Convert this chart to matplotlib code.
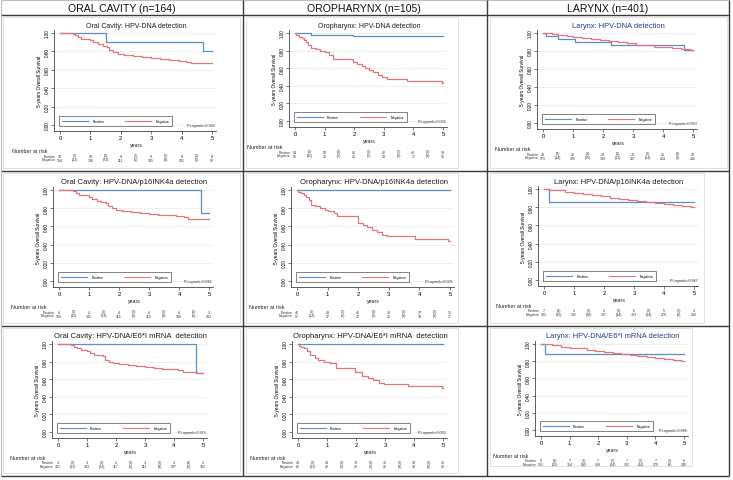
import matplotlib
matplotlib.use('Agg')
import matplotlib.pyplot as plt
from matplotlib.transforms import blended_transform_factory
from matplotlib.lines import Line2D

plt.rcParams['font.family'] = ['Liberation Sans', 'DejaVu Sans']

W, H = 733, 481

# ---------------- data ----------------
col_headers = ['ORAL CAVITY (n=164)', 'OROPHARYNX (n=105)', 'LARYNX (n=401)']

titles = [
    ['Oral Cavity: HPV-DNA detection', 'Oropharynx: HPV-DNA detection', 'Larynx: HPV-DNA detection'],
    ['Oral Cavity: HPV-DNA/p16INK4a detection', 'Oropharynx: HPV-DNA/p16INK4a detection',
     'Larynx: HPV-DNA/p16INK4a detection'],
    ['Oral Cavity: HPV-DNA/E6*I mRNA  detection', 'Oropharynx: HPV-DNA/E6*I mRNA  detection',
     'Larynx: HPV-DNA/E6*I mRNA detection'],
]

p_values = [
    ['P-Logrank=0.363', 'P-Logrank<0.001', 'P-Logrank=0.990'],
    ['P-Logrank=0.861', 'P-Logrank<0.001', 'P-Logrank=0.947'],
    ['P-Logrank=0.975', 'P-Logrank<0.001', 'P-Logrank=0.885'],
]

risk_times = [0, 0.5, 1, 1.5, 2, 2.5, 3, 3.5, 4, 4.5, 5]
xticks_years = [0, 1, 2, 3, 4, 5]
yticks_surv = [0.0, 0.2, 0.4, 0.6, 0.8, 1.0]

# Positive curves (time, survival)
pos_times = [
    [[0, 1.5, 4.72, 5.0], [0, 0.55, 1.95, 5.0], [0, 0.1, 0.5, 1.07, 2.28, 4.7, 5.0]],
    [[0, 4.73, 5.0], [0, 5.0], [0, 0.15, 5.0]],
    [[0, 4.75, 5.0], [0, 5.0], [0, 0.15, 5.0]],
]
pos_surv = [
    [[1.0, 0.9, 0.8, 0.8], [1.0, 0.981, 0.962, 0.962], [1.0, 0.966, 0.931, 0.897, 0.862, 0.81, 0.81]],
    [[1.0, 0.75, 0.75], [1.0, 1.0], [1.0, 0.857, 0.857]],
    [[1.0, 0.667, 0.667], [1.0, 1.0], [1.0, 0.889, 0.889]],
]

# Negative curves (time, survival)
neg_times = [
    [
        [0, 0.42, 0.5, 0.6, 0.7, 0.85, 1.0, 1.1, 1.25, 1.4, 1.55, 1.62, 1.75, 1.9, 2.1, 2.4, 2.7, 3.0,
         3.3, 3.6, 3.9, 4.15, 4.3, 4.8, 5.0],
        [0, 0.02, 0.12, 0.22, 0.3, 0.37, 0.45, 0.55, 0.7, 0.85, 1.0, 1.15, 1.3, 1.95, 2.1, 2.25, 2.35,
         2.5, 2.65, 2.8, 2.95, 3.1, 3.8, 4.95, 5.0],
        [0, 0.1, 0.3, 0.5, 0.8, 1.0, 1.3, 1.6, 1.9, 2.2, 2.5, 2.8, 3.1, 3.4, 3.7, 4.0, 4.3, 4.6, 4.9, 5.0],
    ],
    [
        [0, 0.45, 0.55, 0.65, 0.8, 1.0, 1.1, 1.25, 1.4, 1.55, 1.62, 1.75, 1.9, 2.1, 2.4, 2.7, 3.0, 3.3,
         3.6, 3.9, 4.15, 4.3, 4.8, 5.0],
        [0, 0.02, 0.12, 0.22, 0.3, 0.38, 0.47, 0.6, 0.75, 0.9, 1.02, 1.2, 1.3, 1.98, 2.15, 2.3, 2.44,
         2.6, 2.77, 2.95, 3.86, 4.95, 5.0],
        [0, 0.15, 0.4, 0.7, 1.0, 1.3, 1.6, 1.9, 2.2, 2.5, 2.8, 3.1, 3.4, 3.7, 4.0, 4.3, 4.6, 4.9, 5.0],
    ],
    [
        [0, 0.45, 0.55, 0.65, 0.8, 1.0, 1.1, 1.25, 1.4, 1.55, 1.62, 1.75, 1.9, 2.1, 2.4, 2.7, 3.0, 3.3,
         3.6, 3.9, 4.15, 4.3, 4.8, 5.0],
        [0, 0.02, 0.12, 0.22, 0.3, 0.4, 0.57, 0.7, 0.88, 1.1, 1.3, 1.97, 2.2, 2.43, 2.6, 2.78, 2.95,
         3.8, 4.95, 5.0],
        [0, 0.15, 0.4, 0.7, 1.0, 1.3, 1.6, 1.9, 2.2, 2.5, 2.8, 3.1, 3.4, 3.7, 4.0, 4.3, 4.6, 4.9, 5.0],
    ],
]
neg_surv = [
    [
        [1.0, 0.99, 0.98, 0.96, 0.94, 0.93, 0.92, 0.90, 0.88, 0.86, 0.85, 0.81, 0.79, 0.77, 0.76, 0.75,
         0.74, 0.73, 0.72, 0.71, 0.70, 0.69, 0.675, 0.67, 0.67],
        [1.0, 0.98, 0.96, 0.94, 0.92, 0.90, 0.86, 0.83, 0.82, 0.80, 0.78, 0.75, 0.71, 0.67, 0.65, 0.63,
         0.60, 0.58, 0.56, 0.52, 0.50, 0.48, 0.455, 0.43, 0.43],
        [1.0, 0.995, 0.985, 0.978, 0.965, 0.955, 0.945, 0.935, 0.922, 0.91, 0.895, 0.885, 0.872, 0.862,
         0.85, 0.84, 0.83, 0.82, 0.81, 0.808],
    ],
    [
        [1.0, 0.99, 0.97, 0.95, 0.94, 0.92, 0.90, 0.88, 0.87, 0.86, 0.82, 0.80, 0.78, 0.77, 0.76, 0.75,
         0.74, 0.73, 0.72, 0.71, 0.70, 0.685, 0.68, 0.68],
        [1.0, 0.98, 0.965, 0.95, 0.92, 0.89, 0.84, 0.82, 0.80, 0.78, 0.77, 0.75, 0.71, 0.64, 0.62, 0.59,
         0.56, 0.54, 0.51, 0.49, 0.46, 0.44, 0.44],
        [1.0, 0.99, 0.985, 0.97, 0.955, 0.945, 0.93, 0.92, 0.905, 0.89, 0.88, 0.868, 0.855, 0.845, 0.835,
         0.825, 0.815, 0.805, 0.80],
    ],
    [
        [1.0, 0.99, 0.97, 0.95, 0.935, 0.92, 0.90, 0.88, 0.87, 0.86, 0.82, 0.80, 0.78, 0.77, 0.76, 0.75,
         0.74, 0.73, 0.72, 0.715, 0.70, 0.685, 0.675, 0.67],
        [1.0, 0.98, 0.97, 0.95, 0.92, 0.88, 0.84, 0.82, 0.80, 0.78, 0.73, 0.68, 0.64, 0.61, 0.59, 0.56,
         0.54, 0.52, 0.50, 0.50],
        [1.0, 0.995, 0.985, 0.97, 0.958, 0.948, 0.935, 0.922, 0.91, 0.898, 0.885, 0.872, 0.86, 0.85, 0.84,
         0.83, 0.818, 0.806, 0.80],
    ],
]

# Number at risk tables (values at 0..5, censored counts between)
pos_risk = [
    [[10, 10, 9, 9, 9, 8], [54, 50, 45, 42, 41, 39], [29, 26, 24, 22, 21, 19]],
    [[4, 4, 4, 4, 4, 3], [46, 43, 41, 38, 37, 35], [7, 5, 5, 5, 5, 4]],
    [[3, 3, 3, 3, 3, 2], [43, 40, 38, 35, 34, 32], [9, 7, 7, 7, 7, 6]],
]
pos_cens = [
    [[0, 1, 0, 0, 1], [1, 1, 0, 0, 0], [2, 1, 1, 0, 1]],
    [[0, 0, 0, 0, 1], [0, 0, 0, 0, 0], [1, 0, 0, 0, 0]],
    [[0, 0, 0, 0, 1], [0, 0, 0, 0, 0], [1, 0, 0, 0, 0]],
]
neg_risk = [
    [[154, 136, 111, 105, 101, 96], [51, 32, 25, 18, 17, 15], [371, 335, 309, 287, 264, 236]],
    [[159, 141, 116, 110, 106, 101], [57, 37, 27, 20, 19, 17], [392, 355, 327, 303, 279, 250]],
    [[161, 143, 117, 111, 107, 102], [62, 42, 32, 25, 24, 22], [391, 354, 328, 302, 279, 249]],
]
neg_cens = [
    [[12, 23, 5, 4, 5], [11, 5, 6, 1, 1], [14, 15, 13, 14, 8]],
    [[12, 23, 5, 4, 5], [12, 6, 6, 1, 1], [15, 16, 14, 14, 9]],
    [[12, 24, 5, 4, 5], [12, 6, 6, 1, 1], [15, 16, 14, 14, 9]],
]

# ---------------- layout (pixels) ----------------
X0 = [[60, 295, 543], [59, 297, 544], [58, 298, 541]]
X5 = [[212, 443, 693], [209, 450, 694], [203, 443, 684]]
Y1 = [[34, 34, 34], [191, 191, 190], [345, 345, 345]]
Y0 = [[126, 122, 124], [282, 282, 281], [433, 433, 431]]
title_colors = [['#1a1a1a', '#1a1a1a', '#1f3c88'],
                ['#1a1a1a', '#1a1a1a', '#1a1a1a'],
                ['#1a1a1a', '#1a1a1a', '#1f3c88']]
title_sizes = [[5.0, 5.0, 5.4], [5.5, 5.5, 5.4], [5.5, 5.5, 5.4]]

POS_COLOR = '#5b8fc2'
NEG_COLOR = '#e2757a'

fig = plt.figure(figsize=(W / 100, H / 100), dpi=100)
fig.patch.set_facecolor('white')


def fx(x):
    return x / W


def fy(y):
    return 1 - y / H


def fline(xa, ya, xb, yb, color='#3a3a3a', lw=1.0):
    fig.add_artist(Line2D([fx(xa), fx(xb)], [fy(ya), fy(yb)], transform=fig.transFigure,
                          color=color, lw=lw, solid_capstyle='butt'))


# faint inner graph-region borders
inner_boxes = [
    [(3, 18, 240, 169), (246, 18, 458, 169), (490, 18, 727, 169)],
    [(3, 174, 240, 324), (246, 174, 458, 324), (490, 174, 704, 324)],
    [(3, 329, 240, 474), (246, 329, 458, 474), (490, 329, 692, 467)],
]
for row in inner_boxes:
    for (a, b, c, d) in row:
        for seg in [(a, b, c, b), (c, b, c, d), (a, d, c, d), (a, b, a, d)]:
            fline(*seg, color='#dcdcdc', lw=0.6)

# table lines
fline(1, 1, 729, 1, color='#bdbdbd', lw=0.8)
fline(1, 16, 729, 16)
fline(1, 172, 729, 172)
fline(1, 327, 729, 327)
fline(1, 477, 729, 477)
for xv in [243, 487, 729]:
    fline(xv, 1, xv, 477)
fline(1, 1, 1, 477, color='#bdbdbd', lw=0.8)

header_x = [122, 364, 608]
for c in range(3):
    fig.text(fx(header_x[c]), fy(9.5), col_headers[c], ha='center', va='center',
             fontsize=7.6, color='#111111')

for r in range(3):
    for c in range(3):
        x0, x5, y1, y0 = X0[r][c], X5[r][c], Y1[r][c], Y0[r][c]
        sx = (x5 - x0) / 5.0
        sy = float(y0 - y1)
        left_px, right_px = x0 - 6, x5 + 4
        top_px, bot_px = y1 - 3, y0 + 6
        ax = fig.add_axes([fx(left_px), fy(bot_px), (right_px - left_px) / W, (bot_px - top_px) / H])
        ax.set_xlim(-6 / sx, 5 + 4 / sx)
        ax.set_ylim(-6 / sy, 1 + 3 / sy)
        ax.set_facecolor('white')
        for s in ['top', 'right']:
            ax.spines[s].set_visible(False)
        for s in ['left', 'bottom']:
            ax.spines[s].set_color('#444444')
            ax.spines[s].set_linewidth(0.6)
        ax.set_yticks(yticks_surv)
        ax.set_yticklabels(['%.2f' % v for v in yticks_surv], rotation=90, va='center', fontsize=3.3)
        ax.set_xticks(xticks_years)
        ax.set_xticklabels([str(v) for v in xticks_years], fontsize=4.2)
        ax.tick_params(axis='both', length=2, width=0.5, color='#444444', pad=1.2)
        ax.grid(axis='y', color='#e9e9e9', lw=0.5)
        ax.set_axisbelow(True)

        ax.step(pos_times[r][c], pos_surv[r][c], where='post', color=POS_COLOR, lw=0.9)
        ax.step(neg_times[r][c], neg_surv[r][c], where='post', color=NEG_COLOR, lw=0.9)

        ax.set_ylabel('5-years Overall Survival', fontsize=3.4, labelpad=2)

        h = [Line2D([], [], color=POS_COLOR, lw=0.8), Line2D([], [], color=NEG_COLOR, lw=0.8)]
        leg = ax.legend(h, ['Positive', 'Negative'], loc='lower left', bbox_to_anchor=(0.02, 0.035),
                        ncol=2, fontsize=2.5, handlelength=7.5, columnspacing=6.0, borderpad=0.8,
                        handletextpad=1.3, frameon=True, fancybox=False)
        leg.get_frame().set_edgecolor('#222222')
        leg.get_frame().set_linewidth(0.5)

        ax.text(1.0, 0.04, p_values[r][c], transform=ax.transAxes, ha='right', va='bottom',
                fontsize=2.7, color='#333333')

        tr = blended_transform_factory(ax.transData, fig.transFigure)
        ax.text(2.5, fy(y1 - 8), titles[r][c], transform=tr, ha='center', va='center',
                fontsize=title_sizes[r][c], color=title_colors[r][c])
        ax.text(2.5, fy(y0 + 19.5), 'years', transform=tr, ha='center', va='center', fontsize=3.8,
                color='#222222')
        ax.text(-48 / sx, fy(y0 + 25.5), 'Number at risk', transform=tr, ha='left', va='center',
                fontsize=3.9, color='#222222')
        ax.text(-4 / sx, fy(y0 + 30.5), 'Positive', transform=tr, ha='right', va='center',
                fontsize=2.5, color='#333333')
        ax.text(-4 / sx, fy(y0 + 34.5), 'Negative', transform=tr, ha='right', va='center',
                fontsize=2.5, color='#333333')
        for k, t in enumerate(risk_times):
            if k % 2 == 0:
                pv = str(pos_risk[r][c][k // 2])
                nv = str(neg_risk[r][c][k // 2])
            else:
                pv = '(%d)' % pos_cens[r][c][k // 2]
                nv = '(%d)' % neg_cens[r][c][k // 2]
            ax.text(t, fy(y0 + 30.5), pv, transform=tr, ha='center', va='center', fontsize=2.6,
                    color='#333333')
            ax.text(t, fy(y0 + 34.5), nv, transform=tr, ha='center', va='center', fontsize=2.6,
                    color='#333333')

fig.savefig('out.png', dpi=100, facecolor='white')
